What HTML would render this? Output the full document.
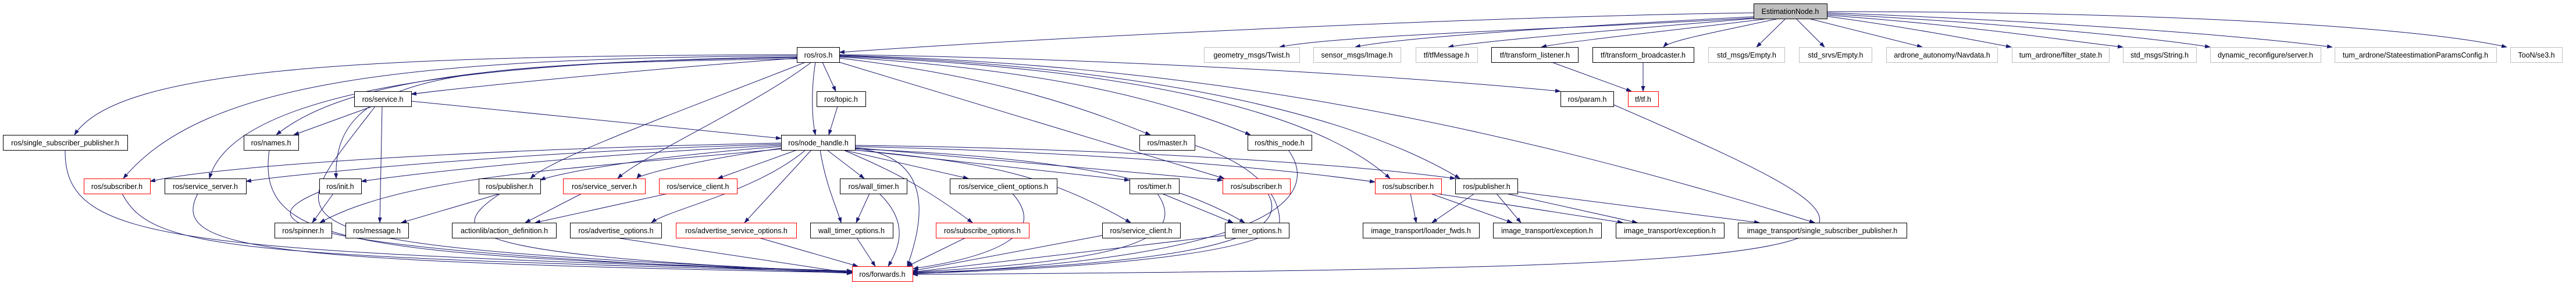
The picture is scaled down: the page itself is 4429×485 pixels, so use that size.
<!DOCTYPE html>
<html><head><meta charset="utf-8"><style>
html,body{margin:0;padding:0;background:#fff;}
svg{display:block;}
text{font-family:"Liberation Sans",sans-serif;font-size:12.5px;fill:#000;text-anchor:middle;}
.e{fill:none;stroke:#191970;stroke-width:1;}
.b{fill:#fff;stroke:#000;stroke-width:1;}
.g{fill:#fff;stroke:#bfbfbf;stroke-width:1;}
.r{fill:#fff;stroke:#ff0000;stroke-width:1;}
.m{fill:#bfbfbf;stroke:#000;stroke-width:1;}
</style></head><body>
<svg width="4429" height="485" viewBox="0 0 4429 485" xmlns="http://www.w3.org/2000/svg">
<defs><marker id="a" markerWidth="10" markerHeight="8" refX="9" refY="3.5" orient="auto" markerUnits="userSpaceOnUse"><path d="M0,0 L10,3.5 L0,7 z" fill="#191970"/></marker></defs>
<g class="e" marker-end="url(#a)">
<path d="M3030,30 C2700,50 2300,60 2200,81"/>
<path d="M3030,28 C2700,45 2400,65 2330,81"/>
<path d="M3035,30 C2800,50 2550,70 2490,81"/>
<path d="M3040,32 C2900,50 2700,70 2650,81"/>
<path d="M3058,32 C2950,55 2870,70 2860,81"/>
<path d="M3070,32 L3020,81"/>
<path d="M3088,32 L3137,81"/>
<path d="M3110,32 L3305,81"/>
<path d="M3141,28 C3300,50 3400,70 3458,81"/>
<path d="M3141,26 C3400,45 3550,70 3650,81"/>
<path d="M3141,24 C3450,40 3700,65 3800,81"/>
<path d="M3141,22 C3500,35 3850,60 4010,81"/>
<path d="M3141,20 C3700,20 4150,45 4310,81"/>
<path d="M3015,22 C2500,30 1800,65 1443,90"/>
<path d="M2668,107 L2805,157"/>
<path d="M2825,107 L2825,157"/>
<path d="M1414,107 L1437,157"/>
<path d="M1402,107 C1395,150 1395,200 1402,232"/>
<path d="M1370,100 C1100,120 800,150 707,162"/>
<path d="M1370,94 C600,96 200,120 128,232"/>
<path d="M1370,96 C700,100 350,140 212,307"/>
<path d="M1370,98 C800,105 400,160 360,307"/>
<path d="M1370,99 C900,105 600,130 475,232"/>
<path d="M1370,101 C800,110 570,120 578,307"/>
<path d="M1385,107 C1200,180 950,270 912,307"/>
<path d="M1395,107 C1300,180 1100,270 1062,307"/>
<path d="M1443,100 C1700,130 1850,180 1978,232"/>
<path d="M1443,98 C1800,120 2000,170 2150,232"/>
<path d="M1443,107 L2105,307"/>
<path d="M1443,97 C1900,115 2250,180 2390,307"/>
<path d="M1443,96 C1900,110 2300,180 2510,307"/>
<path d="M1443,95 C2000,110 2500,190 3120,383"/>
<path d="M1443,94 C1900,100 2400,130 2683,157"/>
<path d="M640,183 L505,232"/>
<path d="M657,183 L653,383"/>
<path d="M645,183 C480,400 400,420 1465,468"/>
<path d="M707,174 C1000,205 1200,225 1343,238"/>
<path d="M1440,183 L1425,232"/>
<path d="M463,258 C440,420 600,440 1465,466"/>
<path d="M112,258 C110,420 300,430 1465,467"/>
<path d="M210,333 C260,430 400,440 1465,468"/>
<path d="M340,333 C290,430 450,450 1465,469"/>
<path d="M573,333 L537,383"/>
<path d="M549,330 C430,380 450,430 1465,470"/>
<path d="M1343,246 C900,255 400,280 258,312"/>
<path d="M1343,248 C900,260 500,300 423,312"/>
<path d="M1343,250 C1000,265 700,300 621,312"/>
<path d="M1343,252 C1100,270 950,300 929,310"/>
<path d="M1343,255 C1200,275 1100,300 1095,307"/>
<path d="M1370,258 L1234,307"/>
<path d="M1345,256 C1000,290 700,300 550,383"/>
<path d="M1385,258 C1300,330 1150,360 1120,383"/>
<path d="M1395,258 L1280,383"/>
<path d="M1422,258 L1486,307"/>
<path d="M1410,258 C1420,320 1440,360 1446,383"/>
<path d="M1450,258 L1665,307"/>
<path d="M1450,258 C1550,300 1600,330 1672,383"/>
<path d="M1470,258 C1700,280 1800,300 1944,383"/>
<path d="M1470,258 L1942,310"/>
<path d="M1470,256 C1800,270 2000,300 2140,383"/>
<path d="M1470,254 L2102,310"/>
<path d="M1470,252 C1900,262 2200,290 2364,313"/>
<path d="M1470,250 C1900,255 2300,280 2502,307"/>
<path d="M1470,255 C1620,270 1580,400 1560,458"/>
<path d="M860,333 L690,383"/>
<path d="M860,333 C760,400 780,440 1465,468"/>
<path d="M1000,333 L903,383"/>
<path d="M1148,333 L920,383"/>
<path d="M1060,409 L1465,470"/>
<path d="M1305,409 L1475,458"/>
<path d="M1473,409 L1505,458"/>
<path d="M1495,333 L1472,383"/>
<path d="M1512,333 C1560,380 1550,420 1527,458"/>
<path d="M1660,409 L1560,458"/>
<path d="M1741,333 C1800,400 1720,440 1570,462"/>
<path d="M1895,405 L1569,466"/>
<path d="M1998,333 L2120,383"/>
<path d="M1990,333 C2050,420 1900,450 1569,468"/>
<path d="M2106,405 L1569,468"/>
<path d="M2054,250 C2150,280 2200,330 2200,380 C2200,440 1800,465 1569,470"/>
<path d="M2215,258 C2260,320 2250,440 1569,471"/>
<path d="M2180,333 C2230,420 2000,455 1569,469"/>
<path d="M2774,180 C3350,430 3400,460 1569,472"/>
<path d="M2425,333 L2435,383"/>
<path d="M2460,333 L2600,383"/>
<path d="M2470,333 L2790,383"/>
<path d="M2535,333 L2462,383"/>
<path d="M2573,333 L2615,383"/>
<path d="M2590,333 L2815,383"/>
<path d="M2609,330 L3025,383"/>
</g>
<!-- row0 -->
<rect class="m" x="3015.5" y="6.5" width="126" height="26"/><text x="3078" y="24">EstimationNode.h</text>
<!-- row1 -->
<rect class="b" x="1370.5" y="81.5" width="73" height="26"/><text x="1407" y="99">ros/ros.h</text>
<rect class="g" x="2070.5" y="81.5" width="164" height="26"/><text x="2152" y="99">geometry_msgs/Twist.h</text>
<rect class="g" x="2258.5" y="81.5" width="150" height="26"/><text x="2333" y="99">sensor_msgs/Image.h</text>
<rect class="g" x="2434.5" y="81.5" width="106" height="26"/><text x="2487" y="99">tf/tfMessage.h</text>
<rect class="b" x="2564.5" y="81.5" width="149" height="26"/><text x="2639" y="99">tf/transform_listener.h</text>
<rect class="b" x="2738.5" y="81.5" width="174" height="26"/><text x="2825" y="99">tf/transform_broadcaster.h</text>
<rect class="g" x="2937.5" y="81.5" width="131" height="26"/><text x="3003" y="99">std_msgs/Empty.h</text>
<rect class="g" x="3093.5" y="81.5" width="125" height="26"/><text x="3156" y="99">std_srvs/Empty.h</text>
<rect class="g" x="3243.5" y="81.5" width="191" height="26"/><text x="3339" y="99">ardrone_autonomy/Navdata.h</text>
<rect class="g" x="3459.5" y="81.5" width="167" height="26"/><text x="3543" y="99">tum_ardrone/filter_state.h</text>
<rect class="g" x="3650.5" y="81.5" width="126" height="26"/><text x="3713" y="99">std_msgs/String.h</text>
<rect class="g" x="3800.5" y="81.5" width="190" height="26"/><text x="3895" y="99">dynamic_reconfigure/server.h</text>
<rect class="g" x="4014.5" y="81.5" width="278" height="26"/><text x="4153" y="99">tum_ardrone/StateestimationParamsConfig.h</text>
<rect class="g" x="4316.5" y="81.5" width="89" height="26"/><text x="4361" y="99">TooN/se3.h</text>
<!-- row2 -->
<rect class="b" x="609.5" y="157.5" width="98" height="26"/><text x="658" y="175">ros/service.h</text>
<rect class="b" x="1404.5" y="157.5" width="84" height="26"/><text x="1446" y="175">ros/topic.h</text>
<rect class="b" x="2683.5" y="157.5" width="91" height="26"/><text x="2729" y="175">ros/param.h</text>
<rect class="r" x="2799.5" y="157.5" width="52" height="26"/><text x="2825" y="175">tf/tf.h</text>
<!-- row3 -->
<rect class="b" x="5.5" y="232.5" width="214" height="26"/><text x="112" y="250">ros/single_subscriber_publisher.h</text>
<rect class="b" x="419.5" y="232.5" width="94" height="26"/><text x="466" y="250">ros/names.h</text>
<rect class="b" x="1343.5" y="232.5" width="127" height="26"/><text x="1407" y="250">ros/node_handle.h</text>
<rect class="b" x="1959.5" y="232.5" width="95" height="26"/><text x="2007" y="250">ros/master.h</text>
<rect class="b" x="2145.5" y="232.5" width="110" height="26"/><text x="2200" y="250">ros/this_node.h</text>
<!-- row4 -->
<rect class="r" x="144.5" y="307.5" width="114" height="26"/><text x="201" y="325">ros/subscriber.h</text>
<rect class="b" x="283.5" y="307.5" width="140" height="26"/><text x="353" y="325">ros/service_server.h</text>
<rect class="b" x="549.5" y="307.5" width="72" height="26"/><text x="585" y="325">ros/init.h</text>
<rect class="b" x="823.5" y="307.5" width="106" height="26"/><text x="876" y="325">ros/publisher.h</text>
<rect class="r" x="968.5" y="307.5" width="141" height="26"/><text x="1039" y="325">ros/service_server.h</text>
<rect class="r" x="1133.5" y="307.5" width="134" height="26"/><text x="1200" y="325">ros/service_client.h</text>
<rect class="b" x="1444.5" y="307.5" width="115" height="26"/><text x="1502" y="325">ros/wall_timer.h</text>
<rect class="b" x="1633.5" y="307.5" width="184" height="26"/><text x="1725" y="325">ros/service_client_options.h</text>
<rect class="b" x="1942.5" y="307.5" width="85" height="26"/><text x="1985" y="325">ros/timer.h</text>
<rect class="r" x="2102.5" y="307.5" width="116" height="26"/><text x="2160" y="325">ros/subscriber.h</text>
<rect class="r" x="2364.5" y="307.5" width="114" height="26"/><text x="2421" y="325">ros/subscriber.h</text>
<rect class="b" x="2502.5" y="307.5" width="107" height="26"/><text x="2556" y="325">ros/publisher.h</text>
<!-- row5 -->
<rect class="b" x="472.5" y="383.5" width="98" height="26"/><text x="521" y="401">ros/spinner.h</text>
<rect class="b" x="594.5" y="383.5" width="108" height="26"/><text x="648" y="401">ros/message.h</text>
<rect class="b" x="777.5" y="383.5" width="179" height="26"/><text x="867" y="401">actionlib/action_definition.h</text>
<rect class="b" x="980.5" y="383.5" width="157" height="26"/><text x="1059" y="401">ros/advertise_options.h</text>
<rect class="r" x="1162.5" y="383.5" width="207" height="26"/><text x="1266" y="401">ros/advertise_service_options.h</text>
<rect class="b" x="1393.5" y="383.5" width="142" height="26"/><text x="1464" y="401">wall_timer_options.h</text>
<rect class="r" x="1609.5" y="383.5" width="160" height="26"/><text x="1689" y="401">ros/subscribe_options.h</text>
<rect class="b" x="1895.5" y="383.5" width="134" height="26"/><text x="1962" y="401">ros/service_client.h</text>
<rect class="b" x="2106.5" y="383.5" width="110" height="26"/><text x="2161" y="401">timer_options.h</text>
<rect class="b" x="2343.5" y="383.5" width="200" height="26"/><text x="2443" y="401">image_transport/loader_fwds.h</text>
<rect class="b" x="2567.5" y="383.5" width="186" height="26"/><text x="2660" y="401">image_transport/exception.h</text>
<rect class="b" x="2778.5" y="383.5" width="186" height="26"/><text x="2871" y="401">image_transport/exception.h</text>
<rect class="b" x="2988.5" y="383.5" width="290" height="26"/><text x="3133" y="401">image_transport/single_subscriber_publisher.h</text>
<!-- row6 -->
<rect class="r" x="1465.5" y="458.5" width="104" height="26"/><text x="1517" y="476">ros/forwards.h</text>
</svg>
</body></html>
